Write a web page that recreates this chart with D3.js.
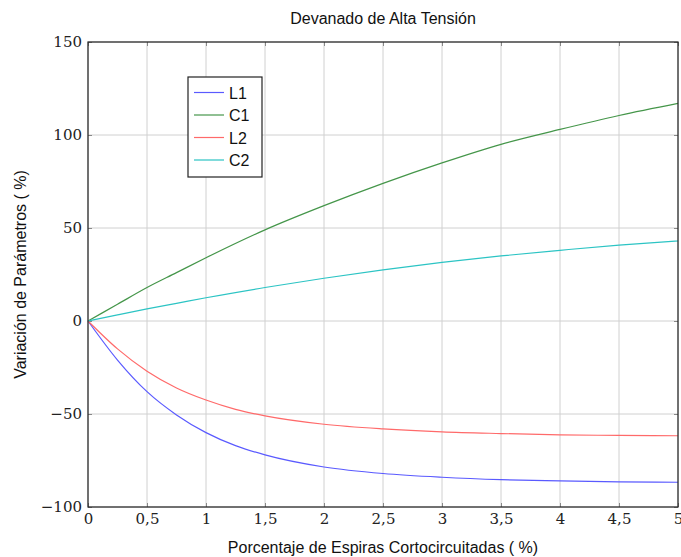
<!DOCTYPE html>
<html lang="es">
<head>
    <meta charset="UTF-8">
    <title>Devanado de Alta Tensión</title>
    <script src="https://cdnjs.cloudflare.com/ajax/libs/d3/7.9.0/d3.min.js"></script>
    <style>
        body { margin: 0; background: white; }
        .tick text { font-family: "DejaVu Serif", "Liberation Serif", serif; }
    </style>
</head>
<body>
    <svg width="681" height="557"></svg>
    <script>
        // datos
        const xL = [0, 0.25, 0.5, 0.75, 1, 1.25, 1.5, 2, 2.5, 3, 3.5, 4, 4.5, 5];
        const L1 = [0, -21, -38, -50.5, -60, -67, -72, -78.5, -82, -84, -85.3, -86, -86.5, -86.7];
        const L2 = [0, -15, -27, -36, -42.5, -47.5, -51, -55.5, -58, -59.6, -60.5, -61.2, -61.5, -61.7];
        const xC = [0, 0.25, 0.5, 0.75, 1, 1.5, 2, 2.5, 3, 3.5, 4, 4.5, 5];
        const C1 = [0, 9, 18, 26, 34, 49, 62, 74, 85, 95, 103, 110.5, 117];
        const C2 = [0, 3.3, 6.5, 9.5, 12.5, 18, 23, 27.5, 31.5, 35, 38, 40.8, 43];
        const xTicks = [0, 0.5, 1, 1.5, 2, 2.5, 3, 3.5, 4, 4.5, 5];
        const yTicks = [-100, -50, 0, 50, 100, 150];

        const series = [
            { name: "L1", x: xL, y: L1, color: "#5a5aff" },
            { name: "C1", x: xC, y: C1, color: "#45964a" },
            { name: "L2", x: xL, y: L2, color: "#ff6a6a" },
            { name: "C2", x: xC, y: C2, color: "#2cc4c4" }
        ];

        const svg = d3.select("svg");
        const m = { left: 88, right: 678, top: 42, bottom: 507 };

        const x = d3.scaleLinear().domain([0, 5]).range([m.left, m.right]);
        const y = d3.scaleLinear().domain([-100, 150]).range([m.bottom, m.top]);

        const fmt = d => String(d).replace(".", ",").replace("-", "\u2212");

        // rejilla
        svg.append("g").selectAll("line").data(xTicks).join("line")
            .attr("x1", d => x(d)).attr("x2", d => x(d))
            .attr("y1", m.top).attr("y2", m.bottom)
            .attr("stroke", "#d0d0d0").attr("stroke-width", 1);
        svg.append("g").selectAll("line").data(yTicks).join("line")
            .attr("x1", m.left).attr("x2", m.right)
            .attr("y1", d => y(d)).attr("y2", d => y(d))
            .attr("stroke", "#d0d0d0").attr("stroke-width", 1);

        // ejes
        const xAxis = svg.append("g")
            .attr("transform", `translate(0,${m.bottom})`)
            .call(d3.axisBottom(x).tickValues(xTicks).tickFormat(fmt).tickSize(-4).tickPadding(6));
        const yAxis = svg.append("g")
            .attr("transform", `translate(${m.left},0)`)
            .call(d3.axisLeft(y).tickValues(yTicks).tickFormat(fmt).tickSize(-4).tickPadding(6));
        svg.append("g")
            .attr("transform", `translate(${m.right},0)`)
            .call(d3.axisRight(y).tickValues(yTicks).tickFormat("").tickSize(-4))
            .call(g => g.select(".domain").remove());
        svg.append("g")
            .attr("transform", `translate(0,${m.top})`)
            .call(d3.axisTop(x).tickValues(xTicks).tickFormat("").tickSize(-4))
            .call(g => g.select(".domain").remove());
        [xAxis, yAxis].forEach(g => {
            g.select(".domain").remove();
            g.selectAll(".tick text").attr("font-size", 15).attr("fill", "#222");
        });
        svg.selectAll(".tick line").attr("stroke", "#888");

        // curvas
        const line = d3.line().x(d => x(d[0])).y(d => y(d[1])).curve(d3.curveMonotoneX);
        series.forEach(s => {
            svg.append("path")
                .datum(s.x.map((v, i) => [v, s.y[i]]))
                .attr("fill", "none")
                .attr("stroke", s.color)
                .attr("stroke-width", 1.2)
                .attr("d", line);
        });

        // marco
        svg.append("rect")
            .attr("x", m.left).attr("y", m.top)
            .attr("width", m.right - m.left).attr("height", m.bottom - m.top)
            .attr("fill", "none").attr("stroke", "#222").attr("stroke-width", 1.2);

        // leyenda
        const lg = svg.append("g").attr("transform", "translate(188,77)");
        lg.append("rect").attr("width", 74).attr("height", 100)
            .attr("fill", "white").attr("stroke", "#222").attr("stroke-width", 1.2);
        series.forEach((s, i) => {
            const yy = 15.5 + i * 22.5;
            lg.append("line").attr("x1", 6).attr("x2", 36).attr("y1", yy).attr("y2", yy)
                .attr("stroke", s.color).attr("stroke-width", 1.2);
            lg.append("text").attr("x", 41).attr("y", yy + 6)
                .attr("font-family", "Liberation Sans, Arial, sans-serif")
                .attr("font-size", 16).attr("fill", "#111").text(s.name);
        });

        // textos
        svg.append("text").attr("x", 383).attr("y", 24).attr("text-anchor", "middle")
            .attr("font-family", "Liberation Sans, Arial, sans-serif").attr("font-size", 16)
            .attr("fill", "#111").text("Devanado de Alta Tensión");
        svg.append("text").attr("x", 383).attr("y", 553).attr("text-anchor", "middle")
            .attr("font-family", "Liberation Sans, Arial, sans-serif").attr("font-size", 16)
            .attr("fill", "#111").text("Porcentaje de Espiras Cortocircuitadas ( %)");
        svg.append("text")
            .attr("transform", `translate(26,${(m.top + m.bottom) / 2}) rotate(-90)`)
            .attr("text-anchor", "middle")
            .attr("font-family", "Liberation Sans, Arial, sans-serif").attr("font-size", 16)
            .attr("fill", "#111").text("Variación de Parámetros ( %)");
    </script>
</body>
</html>
